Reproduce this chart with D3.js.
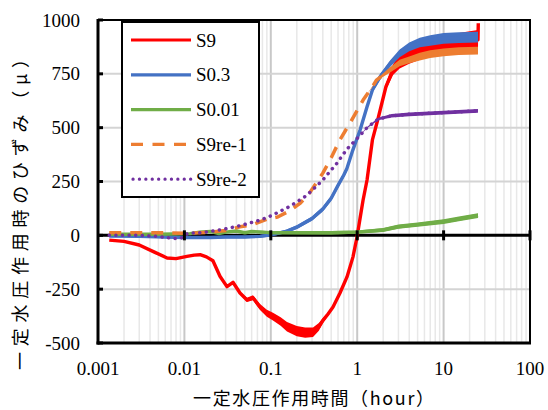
<!DOCTYPE html>
<html><head><meta charset="utf-8">
<script src="https://cdn.jsdelivr.net/npm/d3@7"></script>
<style>html,body{margin:0;padding:0;background:#fff;}svg{display:block;}</style>
</head><body>
<svg id="c" width="548" height="410"></svg>
<script>
// ---- data (time in hours, strain in μ, band half-width in μ) ----
const seriesNames = ["S9", "S0.3", "S0.01", "S9re-1", "S9re-2"];
const seriesColors = ["#FF0000", "#4472C4", "#70AD47", "#ED7D31", "#7030A0"];

const s9T = [0.00135,0.002,0.003,0.0045,0.0063,0.008,0.0107,0.013,0.0152,0.018,0.0214,0.0258,0.0311,0.0365,0.044,0.053,0.0622,0.075,0.09,0.106,0.13,0.154,0.2,0.25,0.308,0.36,0.402,0.46,0.525,0.632,0.762,0.894,0.995,1.08,1.17,1.3,1.5,1.75,2.15,2.6,3.1,4,5.3,7,9.8,14,20,25,25.2];
const s9V = [-22,-28,-45,-78,-105,-108,-98,-92,-90,-100,-118,-190,-238,-218,-268,-300,-290,-333,-362,-378,-400,-425,-445,-452,-450,-425,-395,-365,-333,-268,-193,-100,-8,80,164,257,443,545,690,770,810,835,855,870,885,895,905,908,985];
const s9S = [0,0,0,0,0,0,0,0,0,0,0,0,2,3,6,10,12,14,16,18,20,22,24,24,22,18,12,8,5,3,3,3,3,3,3,4,5,8,15,25,35,38,40,40,40,42,43,45,0];

const s03T = [0.00135,0.003,0.006,0.01,0.02,0.03,0.05,0.075,0.1,0.15,0.2,0.3,0.4,0.5,0.6,0.7,0.76,0.89,1.08,1.3,1.5,1.84,2.4,3.1,4,5.3,7,10,15,25];
const s03V = [-3,-5,-8,-10,-10,-8,-8,-5,2,18,38,78,122,172,232,280,310,396,489,597,675,736,797,845,875,895,905,915,918,920];
const s03S = [3,4,5,5,6,6,6,6,7,8,9,10,11,12,12,12,12,12,12,12,12,13,15,18,20,22,24,25,25,25];

const s001T = [0.00135,0.005,0.0116,0.015,0.02,0.025,0.03,0.04,0.05,0.06,0.08,0.1,0.2,0.5,1,2,3,5,10,15,25];
const s001V = [5,5,8,15,18,8,15,20,12,18,15,12,12,12,15,25,40,50,64,76,92];
const s001S = [0,0,3,4,4,4,4,5,5,5,6,6,7,8,8,9,10,10,11,11,11];

const re1T = [0.00135,0.003,0.006,0.01,0.015,0.02,0.03,0.044,0.06,0.09,0.12,0.167,0.22,0.28,0.4,0.5,0.63,0.82,1.0,1.17,1.5,1.67,2.0,2.4,3.1,4,5.3,7,10,15,25];
const re1V = [12,12,12,10,12,15,22,40,48,75,85,115,150,196,289,360,443,520,580,628,690,721,745,768,800,815,830,842,850,855,858];
const re1S = [0,0,0,0,0,0,0,0,0,0,0,0,0,0,0,0,0,0,0,0,2,4,8,12,15,16,18,18,18,18,18];

const re2T = [0.00135,0.003,0.005,0.0075,0.009,0.011,0.015,0.02,0.03,0.044,0.06,0.075,0.1,0.167,0.26,0.4,0.58,0.76,1.0,1.3,1.75,2.5,4,10,25];
const re2V = [0,0,-5,-15,-15,10,12,18,30,45,60,70,90,135,185,257,334,400,450,500,540,555,562,570,578];
const re2S = [0,0,0,0,0,0,0,0,0,0,0,0,0,0,0,0,0,0,0,3,6,8,9,9,9];

const xTicks = [0.001, 0.01, 0.1, 1, 10, 100];
const xTickLabels = ["0.001", "0.01", "0.1", "1", "10", "100"];
const yTicks = [-500, -250, 0, 250, 500, 750, 1000];
const yTickLabels = ["-500", "-250", "0", "250", "500", "750", "1000"];
const xTitle = "一定水圧作用時間（hour）";
const yTitle = "一定水圧作用時のひずみ（μ）";

// ---- layout ----
const SERIF = '"Liberation Serif"';
const CJK = '"Noto Sans CJK JP"';
const L = 98, R = 530, T = 20, B = 343;
const svg = d3.select("#c");
const x = d3.scaleLog().domain([0.001, 100]).range([L, R]);
const y = d3.scaleLinear().domain([-500, 1000]).range([B, T]);

svg.append("rect").attr("width", 548).attr("height", 410).attr("fill", "#fff");

// minor vertical grid
const minor = [];
for (let d = 0.001; d < 100; d *= 10) for (let k = 2; k <= 9; k++) minor.push(d * k);
svg.append("g").selectAll("line").data(minor).join("line")
  .attr("x1", d => x(d)).attr("x2", d => x(d)).attr("y1", T).attr("y2", B)
  .attr("stroke", "#e8e8e8").attr("stroke-width", 1.5);
// major vertical grid
svg.append("g").selectAll("line").data(xTicks.slice(1, -1)).join("line")
  .attr("x1", d => x(d)).attr("x2", d => x(d)).attr("y1", T).attr("y2", B)
  .attr("stroke", "#c8c8c8").attr("stroke-width", 2);
// horizontal grid
svg.append("g").selectAll("line").data([-250, 250, 500, 750]).join("line")
  .attr("x1", L).attr("x2", R).attr("y1", d => y(d)).attr("y2", d => y(d))
  .attr("stroke", "#d4d4d4").attr("stroke-width", 2);

// plot border (top/right thin)
svg.append("rect").attr("x", L).attr("y", T).attr("width", R - L).attr("height", B - T)
  .attr("fill", "none").attr("stroke", "#000").attr("stroke-width", 2);

// clip
svg.append("clipPath").attr("id", "clip").append("rect")
  .attr("x", L).attr("y", T - 5).attr("width", R - L).attr("height", B - T + 5);

const gData = svg.append("g").attr("clip-path", "url(#clip)");

// zero axis line (drawn below data)
gData.append("line").attr("x1", L).attr("x2", R).attr("y1", y(0)).attr("y2", y(0))
  .attr("stroke", "#000").attr("stroke-width", 3);
svg.append("g").selectAll("line").data(xTicks.slice(1)).join("line")
  .attr("x1", d => x(d)).attr("x2", d => x(d)).attr("y1", y(0) - 5).attr("y2", y(0) + 5)
  .attr("stroke", "#000").attr("stroke-width", 3);

const defs = [
  {T: s9T, V: s9V, S: s9S, dash: null},
  {T: s03T, V: s03V, S: s03S, dash: null},
  {T: s001T, V: s001V, S: s001S, dash: null},
  {T: re1T, V: re1V, S: re1S, dash: "12,9"},
  {T: re2T, V: re2V, S: re2S, dash: "0.1,6.5"}
];

defs.forEach((d, i) => {
  const pts = d.T.map((t, j) => ({t, v: d.V[j], s: d.S[j]}));
  const area = d3.area().x(p => x(p.t)).y0(p => y(p.v - p.s)).y1(p => y(p.v + p.s));
  gData.append("path").attr("d", area(pts)).attr("fill", seriesColors[i]).attr("stroke", "none");
  const line = d3.line().x(p => x(p.t)).y(p => y(p.v));
  const p = gData.append("path").attr("d", line(pts)).attr("fill", "none")
    .attr("stroke", seriesColors[i]).attr("stroke-width", d.dash ? 3.5 : 3.4)
    .attr("stroke-linejoin", "round");
  if (d.dash) {
    p.attr("stroke-dasharray", d.dash);
    if (i === 4) p.attr("stroke-linecap", "round");
  }
});

// left axis and bottom border (thick)
svg.append("line").attr("x1", L).attr("x2", L).attr("y1", T - 1).attr("y2", B + 1.5)
  .attr("stroke", "#000").attr("stroke-width", 3);
svg.append("line").attr("x1", L - 1.5).attr("x2", R + 1).attr("y1", B).attr("y2", B)
  .attr("stroke", "#000").attr("stroke-width", 3);
svg.append("g").selectAll("line").data(yTicks).join("line")
  .attr("x1", L).attr("x2", L + 5).attr("y1", d => y(d)).attr("y2", d => y(d))
  .attr("stroke", "#000").attr("stroke-width", 3);

// tick labels
svg.append("g").selectAll("text").data(yTicks).join("text")
  .style("font-family", SERIF).style("font-size", "19px")
  .attr("x", 80).attr("y", d => y(d)).attr("dy", "0.35em")
  .attr("text-anchor", "end")
  .text((d, i) => yTickLabels[i]);
svg.append("g").selectAll("text").data(xTicks).join("text")
  .style("font-family", SERIF).style("font-size", "19px")
  .attr("x", d => x(d)).attr("y", 375)
  .attr("text-anchor", "middle")
  .text((d, i) => xTickLabels[i]);

// axis titles
svg.append("text").style("font-family", CJK).style("font-size", "18px")
  .attr("x", 193).attr("y", 405)
  .attr("textLength", 241).attr("lengthAdjust", "spacing")
  .text(xTitle);
svg.append("text").style("font-family", CJK).style("font-size", "18px")
  .attr("transform", "translate(27,370) rotate(-90)")
  .attr("textLength", 320).attr("lengthAdjust", "spacing")
  .text(yTitle);

// legend
const lg = svg.append("g");
lg.append("rect").attr("x", 122).attr("y", 22).attr("width", 137).attr("height", 175)
  .attr("fill", "#fff").attr("stroke", "#000").attr("stroke-width", 2);
seriesNames.forEach((n, i) => {
  const yy = 40 + i * 34.8;
  const l = lg.append("line").attr("x1", 131).attr("x2", 191).attr("y1", yy).attr("y2", yy)
    .attr("stroke", seriesColors[i]).attr("stroke-width", 3.2);
  if (defs[i].dash) {
    l.attr("stroke-dasharray", i === 3 ? "12,9.5" : "0.1,6.3");
    if (i === 4) l.attr("stroke-linecap", "round").attr("x1", 133);
  }
  lg.append("text").style("font-family", SERIF).style("font-size", "19px")
    .attr("x", 196).attr("y", yy).attr("dy", "0.35em").text(n);
});
</script>
</body></html>
